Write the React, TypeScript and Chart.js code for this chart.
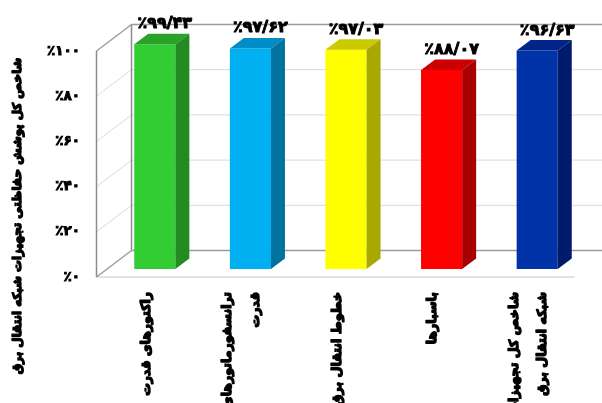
import React, { useEffect, useRef } from "react";
import { Chart, registerables } from "chart.js";

Chart.register(...registerables);

// ---- data ----
const categories: string[][] = [
  ["راکتورهای قدرت"],
  ["ترانسفورماتورهای", "قدرت"],
  ["خطوط انتقال برق"],
  ["باسبارها"],
  ["شاخص کل تجهیزات", "شبکه انتقال برق"],
];
const values: number[] = [99.43, 97.62, 97.03, 88.07, 96.63];
const yMin = 0;
const yMax = 100;
const yStep = 20;
const yTitle = "شاخص کل پوشش حفاظتی تجهیزات شبکه انتقال برق";

// ---- styles ----
const frontColors = ["#32CD32", "#00B0F0", "#FFFF00", "#FF0000", "#0032A8"];
const topColors = ["#2AA22A", "#008CC4", "#CACA00", "#CC0000", "#002488"];
const sideColors = ["#228B22", "#00729E", "#A8A800", "#A80000", "#001B6A"];
const FONT = '"DejaVu Sans", sans-serif';

const BAR_DX = 14;
const BAR_DY = -10.5;
const FRONT_DX = -10.5;
const FRONT_DY = 8;
const BACK_DX = 24.5;
const BACK_DY = -18.5;

const faDigits = "۰۱۲۳۴۵۶۷۸۹";
const toFa = (s: string) => s.replace(/[0-9]/g, (d) => faDigits[+d]);
const pct = (v: number, dec: number) => "٪" + toFa(v.toFixed(dec).replace(".", "/"));

const boldText = (ctx: CanvasRenderingContext2D, t: string, x: number, y: number, w: number) => {
  ctx.lineWidth = w;
  ctx.strokeStyle = "#000";
  ctx.lineJoin = "round";
  ctx.strokeText(t, x, y);
  ctx.fillText(t, x, y);
};

const fitSize = (ctx: CanvasRenderingContext2D, text: string, target: number) => {
  ctx.font = `bold 20px ${FONT}`;
  const w = ctx.measureText(text).width || 1;
  return (20 * target) / w;
};

const threeD = {
  id: "threeD",
  beforeDatasetsDraw(chart: any) {
    const { ctx, chartArea: a, scales } = chart;
    const y = scales.y;
    const fl = a.left + FRONT_DX;
    const fr = a.right + FRONT_DX;
    const bl = a.left + BACK_DX;
    const br = a.right + BACK_DX;
    const line = (x1: number, y1: number, x2: number, y2: number) => {
      ctx.beginPath();
      ctx.moveTo(x1, y1);
      ctx.lineTo(x2, y2);
      ctx.stroke();
    };
    ctx.save();
    const y0 = y.getPixelForValue(yMin);
    const yT = y.getPixelForValue(yMax);
    ctx.strokeStyle = "#e2e2e2";
    ctx.lineWidth = 2;
    line(fl, y0 + FRONT_DY, fr, y0 + FRONT_DY);
    for (let v = yMin; v <= yMax; v += yStep) {
      const py = y.getPixelForValue(v);
      const edge = v === yMin || v === yMax;
      ctx.strokeStyle = edge ? "#9c9c9c" : "#d9d9d9";
      ctx.lineWidth = edge ? 1.5 : 1;
      line(bl, py + BACK_DY, br, py + BACK_DY);
      line(fl, py + FRONT_DY, bl, py + BACK_DY);
    }
    ctx.strokeStyle = "#8c8c8c";
    ctx.lineWidth = 1.5;
    line(fl, yT + FRONT_DY, fl, y0 + FRONT_DY);
    line(bl, yT + BACK_DY, bl, y0 + BACK_DY);
    ctx.restore();
  },
  afterDatasetsDraw(chart: any) {
    const { ctx } = chart;
    const meta = chart.getDatasetMeta(0);
    ctx.save();
    meta.data.forEach((bar: any, i: number) => {
      const { x, y, base, width } = bar.getProps(["x", "y", "base", "width"], true);
      const l = x - width / 2;
      const r = x + width / 2;
      ctx.fillStyle = topColors[i];
      ctx.beginPath();
      ctx.moveTo(l, y);
      ctx.lineTo(r, y);
      ctx.lineTo(r + BAR_DX, y + BAR_DY);
      ctx.lineTo(l + BAR_DX, y + BAR_DY);
      ctx.closePath();
      ctx.fill();
      ctx.fillStyle = sideColors[i];
      ctx.beginPath();
      ctx.moveTo(r, y);
      ctx.lineTo(r + BAR_DX, y + BAR_DY);
      ctx.lineTo(r + BAR_DX, base + BAR_DY);
      ctx.lineTo(r, base);
      ctx.closePath();
      ctx.fill();
      ctx.fillStyle = "#000";
      ctx.font = `bold 16px ${FONT}`;
      ctx.textAlign = "center";
      ctx.textBaseline = "alphabetic";
      boldText(ctx, pct(values[i], 2), x + 10, y - 16, 1);
    });
    ctx.restore();
  },
  afterDraw(chart: any) {
    const { ctx, scales } = chart;
    const xs = scales.x;
    ctx.save();
    ctx.fillStyle = "#000";
    const labelSize = fitSize(ctx, categories[0][0], 104);
    ctx.font = `bold ${labelSize}px ${FONT}`;
    ctx.textBaseline = "middle";
    const LH = 28;
    categories.forEach((lines, i) => {
      const cx = xs.getPixelForValue(i) + FRONT_DX + 2;
      ctx.save();
      ctx.translate(cx, 292);
      ctx.rotate(-Math.PI / 2);
      ctx.textAlign = "right";
      lines.forEach((ln, j) => {
        boldText(ctx, ln, 0, (j - (lines.length - 1) / 2) * LH, 1.4);
      });
      ctx.restore();
    });
    const titleSize = fitSize(ctx, yTitle, 317);
    ctx.save();
    ctx.translate(18, 216);
    ctx.rotate(-Math.PI / 2);
    ctx.textAlign = "center";
    ctx.font = `bold ${titleSize}px ${FONT}`;
    boldText(ctx, yTitle, 0, 0, 1.4);
    ctx.restore();
    ctx.restore();
  },
};

export default function App() {
  const ref = useRef<HTMLCanvasElement | null>(null);
  useEffect(() => {
    if (!ref.current) return;
    const chart = new Chart(ref.current, {
      type: "bar",
      data: {
        labels: categories,
        datasets: [
          {
            data: values,
            backgroundColor: frontColors,
            borderWidth: 0,
            barPercentage: 0.43,
            categoryPercentage: 1,
          },
        ],
      },
      options: {
        responsive: false,
        animation: false,
        devicePixelRatio: 1,
        layout: { padding: { left: 0, top: 43, right: 17, bottom: 134 } },
        plugins: { legend: { display: false }, tooltip: { enabled: false } },
        scales: {
          x: { display: false },
          y: {
            min: yMin,
            max: yMax,
            grid: { display: false, drawTicks: false },
            border: { display: false },
            afterFit: (s: any) => {
              s.width = 107;
            },
            ticks: {
              stepSize: yStep,
              padding: 27,
              labelOffset: 8,
              color: "#000",
              textStrokeColor: "#000",
              textStrokeWidth: 1,
              font: { family: FONT, weight: "bold", size: 13.5 },
              callback: (v: any) => pct(Number(v), 0),
            },
          },
        },
      },
      plugins: [threeD],
    });
    return () => chart.destroy();
  }, []);
  return (
    <div style={{ position: "absolute", left: 0, top: 0, width: 602, height: 403, background: "#fff" }}>
      <canvas ref={ref} width={602} height={403} />
    </div>
  );
}
